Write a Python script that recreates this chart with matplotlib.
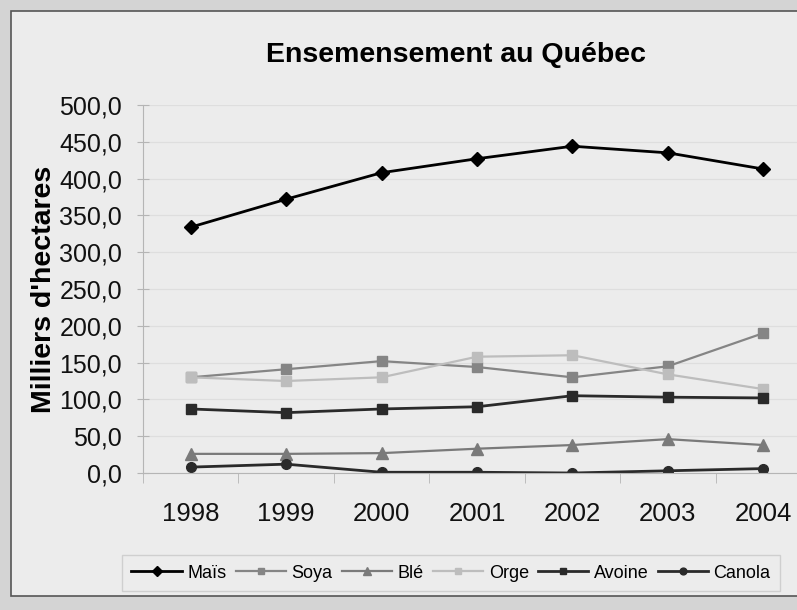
import matplotlib
matplotlib.use("Agg")
import matplotlib.pyplot as plt
from matplotlib.patches import Rectangle
from matplotlib.ticker import FuncFormatter, FixedLocator

plt.rcParams['font.family'] = ['Liberation Sans', 'DejaVu Sans']

annees = ['1998', '1999', '2000', '2001', '2002', '2003', '2004']
mais = [334, 372, 408, 427, 444, 435, 413]
soya = [130, 141, 152, 144, 130, 145, 190]
ble = [26, 26, 27, 33, 38, 46, 38]
orge = [130, 125, 130, 158, 160, 134, 114]
avoine = [87, 82, 87, 90, 105, 103, 102]
canola = [8, 12, 1, 1, 0, 3, 6]

bg = '#ececec'
fig = plt.figure(figsize=(7.97, 6.10), dpi=100, facecolor='#d4d4d4')
# cadre du graphique
fig.patches.append(Rectangle((11 / 797, 14 / 610), 1.0, 585 / 610, transform=fig.transFigure,
                             facecolor=bg, edgecolor='#555555', lw=1.2, zorder=-5))

ax = fig.add_axes([143 / 797, 137 / 610, 668 / 797, 368 / 610])
ax.set_facecolor(bg)
x = list(range(len(annees)))

ax.plot(x, mais, color='black', lw=2, marker='D', ms=7, label='Maïs')
ax.plot(x, soya, color='#858585', lw=1.6, marker='s', ms=7, label='Soya')
ax.plot(x, ble, color='#7a7a7a', lw=1.6, marker='^', ms=8, label='Blé')
ax.plot(x, orge, color='#bdbdbd', lw=1.6, marker='s', ms=7, label='Orge')
ax.plot(x, avoine, color='#2a2a2a', lw=2, marker='s', ms=7, label='Avoine')
ax.plot(x, canola, color='#2a2a2a', lw=2, marker='o', ms=7, label='Canola')

ax.set_xlim(-0.5, 6.5)
ax.set_ylim(0, 500)
ax.set_yticks(range(0, 501, 50))
ax.yaxis.set_major_formatter(FuncFormatter(lambda v, p: f'{v:.1f}'.replace('.', ',')))
ax.set_xticks(x)
ax.set_xticklabels(annees)
ax.xaxis.set_minor_locator(FixedLocator([i + 0.5 for i in range(-1, 7)]))
ax.tick_params(axis='x', which='major', length=0, pad=21, labelsize=18.5, colors='#111111')
ax.tick_params(axis='x', which='minor', length=7, direction='out', color='#b5b5b5')
ax.tick_params(axis='y', length=8, direction='inout', pad=11, labelsize=18, color='#b5b5b5',
               labelcolor='#111111')
ax.grid(axis='y', color='#dedede', lw=0.9)
ax.set_axisbelow(True)
for s in ['top', 'right']:
    ax.spines[s].set_visible(False)
for s in ['left', 'bottom']:
    ax.spines[s].set_color('#b5b5b5')

ax.set_ylabel("Milliers d'hectares", fontsize=20.5, fontweight='bold', labelpad=2)
fig.text(456 / 797, 1 - 55 / 610, 'Ensemensement au Québec', ha='center', va='center',
         fontsize=20.5, fontweight='bold')

leg = fig.legend(loc='center', bbox_to_anchor=(451 / 797, 1 - 573 / 610), ncol=6, fontsize=13,
                 frameon=True, fancybox=False, handlelength=2.8, handletextpad=0.3,
                 columnspacing=0.5, markerscale=0.7, borderpad=0.55)
leg.get_frame().set_facecolor(bg)
leg.get_frame().set_edgecolor('#c8c8c8')

fig.savefig('out.png', dpi=100, facecolor=fig.get_facecolor())
